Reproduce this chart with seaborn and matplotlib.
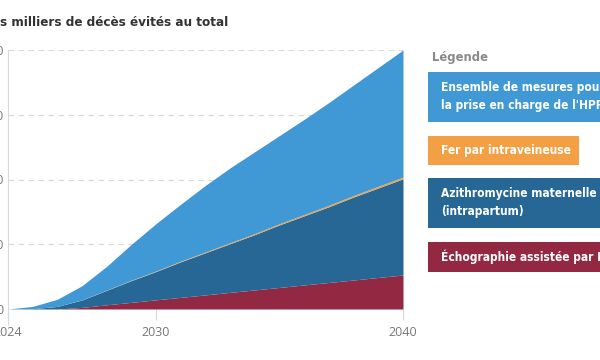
import numpy as np
import pandas as pd
import matplotlib
matplotlib.use("Agg")
import matplotlib.pyplot as plt
import seaborn as sns
from matplotlib.patches import Rectangle

# data (thousands of deaths averted, cumulative)
years = list(range(2024, 2041))
echographie = [0, 0, 0, 2.5, 6.5, 10.3, 14.2, 18.0, 21.8, 25.7, 29.5, 33.3, 37.2, 41.0, 44.8, 48.7, 52.5]
azithromycine = [0, 0.5, 4, 11.5, 22.5, 33.7, 43.8, 55, 65.2, 75.3, 85.5, 96.7, 106.8, 117, 128.2, 138.3, 148.5]
fer_iv = [0, 0, 0.05, 0.2, 0.4, 0.6, 0.8, 1.0, 1.2, 1.4, 1.6, 1.8, 2.0, 2.2, 2.4, 2.6, 2.8]
ensemble_hpp = [0, 3.5, 11, 21.8, 36.6, 55.4, 73.2, 88, 102.8, 115.6, 126.4, 136.2, 147, 158.8, 170.6, 183.4, 196.2]
y_ticks = [0, 100, 200, 300, 400]
x_ticks = [2024, 2030, 2040]

labels = [
    "Ensemble de mesures pour\nla prise en charge de l'HPP",
    "Fer par intraveineuse",
    "Azithromycine maternelle\n(intrapartum)",
    "Échographie assistée par IA",
]
colors = {"ensemble": "#4098d4", "fer": "#f3a044", "azi": "#266796", "echo": "#932842"}

df = pd.DataFrame({"year": years, "echo": echographie, "azi": azithromycine,
                   "fer": fer_iv, "ensemble": ensemble_hpp})

sns.set_theme(style="white")
plt.rcParams["font.family"] = ["Open Sans", "DejaVu Sans"]
cond = dict(family="DejaVu Sans", stretch="condensed", fontweight="bold")

fig = plt.figure(figsize=(6, 3.6), dpi=100)
ax = fig.add_axes([8 / 600, 1 - 309 / 360, 395 / 600, 259 / 360])

ax.stackplot(df["year"], df["echo"], df["azi"], df["fer"], df["ensemble"],
             colors=[colors["echo"], colors["azi"], colors["fer"], colors["ensemble"]],
             linewidth=0)

ax.set_xlim(2024, 2040)
ax.set_yticks(y_ticks)
ax.set_xticks(x_ticks)
ax.set_yticklabels([str(v) for v in y_ticks])
for v in y_ticks[1:]:
    ax.axhline(v, color="#d9d9d9", linestyle=(0, (5, 4)), linewidth=0.8, zorder=0)

for side in ["top", "right", "bottom"]:
    ax.spines[side].set_visible(False)
ax.spines["left"].set_color("#d9d9d9")
ax.spines["left"].set_linewidth(0.8)
ax.spines["left"].set_bounds(-25, 400)
ax.set_ylim(0, 400)
ax.tick_params(axis="x", length=8, color="#d9d9d9", width=0.8, pad=4,
               labelsize=9, labelcolor="#777777", bottom=True)
ax.tick_params(axis="y", length=0, pad=3, labelsize=9, labelcolor="#777777")
ax.set_xlabel("")
ax.set_ylabel("")

# title (left part is cropped in the source)
fig.text(0 / 600, 1 - 22 / 360, "s milliers de décès évités au total",
         fontsize=9.6, color="#333333", ha="left", va="center", **cond)

# legend boxes
fig.text(432 / 600, 1 - 57 / 360, "Légende", fontsize=9.3,
         color="#8a8a8a", ha="left", va="center", **cond)
boxes = [
    (72, 122, 200, colors["ensemble"], labels[0]),
    (136, 165, 151, colors["fer"], labels[1]),
    (178, 228, 200, colors["azi"], labels[2]),
    (242, 272, 200, colors["echo"], labels[3]),
]
for top, bottom, width, col, text in boxes:
    fig.patches.append(Rectangle((428 / 600, 1 - bottom / 360), width / 600, (bottom - top) / 360,
                                 transform=fig.transFigure, facecolor=col, edgecolor="none"))
    fig.text(441 / 600, 1 - (top + bottom) / 2 / 360, text, fontsize=8.6,
             color="white", ha="left", va="center", linespacing=1.5, **cond)

fig.savefig("out.png", dpi=100)
